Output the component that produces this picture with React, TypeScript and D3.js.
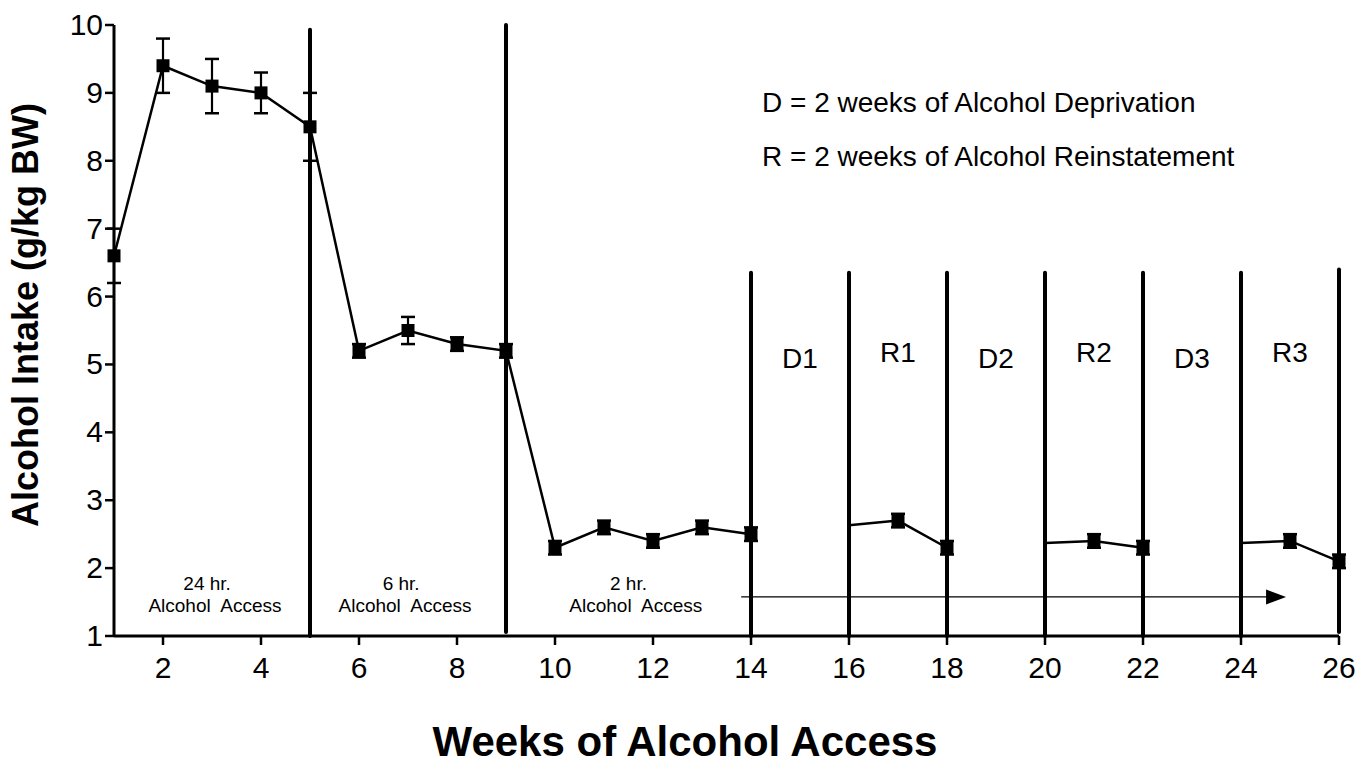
import React from "react";
import * as d3 from "d3";

// ---- data ----
const weeksMain = [1, 2, 3, 4, 5, 6, 7, 8, 9, 10, 11, 12, 13, 14];
const meansMain = [6.6, 9.4, 9.1, 9.0, 8.5, 5.2, 5.5, 5.3, 5.2, 2.3, 2.6, 2.4, 2.6, 2.5];
const semMain = [0.4, 0.4, 0.4, 0.3, 0.5, 0.1, 0.2, 0.1, 0.1, 0.1, 0.1, 0.1, 0.1, 0.1];

const weeksR1 = [16, 17, 18];
const meansR1 = [2.63, 2.7, 2.3];
const semR1 = [null, 0.1, 0.1];

const weeksR2 = [20, 21, 22];
const meansR2 = [2.37, 2.4, 2.3];
const semR2 = [null, 0.1, 0.1];

const weeksR3 = [24, 25, 26];
const meansR3 = [2.37, 2.4, 2.1];
const semR3 = [null, 0.1, 0.1];

const dividerWeeks = [5, 9, 14, 16, 18, 20, 22, 24, 26];
const dividerTops = [9.93, 10.0, 6.35, 6.35, 6.35, 6.35, 6.35, 6.35, 6.4];
const dividerBottoms = [1.0, 1.06, 1.0, 1.0, 1.0, 1.0, 1.0, 1.0, 1.06];

const phaseLabels = ["D1", "R1", "D2", "R2", "D3", "R3"];
const phaseWeeks = [15, 17, 19, 21, 23, 25];

const accessHours = ["24 hr.", "6 hr.", "2 hr."];
const accessHourWeeks = [2.9, 6.86, 11.5];
const accessLabelWeeks = [3.06, 6.94, 11.65];

const xTicks = [2, 4, 6, 8, 10, 12, 14, 16, 18, 20, 22, 24, 26];
const yTicks = [1, 2, 3, 4, 5, 6, 7, 8, 9, 10];

const arrowStart = 13.8;
const arrowEnd = 24.92;
const arrowLevel = 1.575;

const legendLines = [
  "D = 2 weeks of Alcohol Deprivation",
  "R = 2 weeks of Alcohol Reinstatement",
];

const FONT = "'Liberation Sans', Arial, Helvetica, sans-serif";

export default function App() {
  const W = 1358;
  const H = 766;
  const x = d3.scaleLinear().domain([1, 26]).range([114, 1339]);
  const y = d3.scaleLinear().domain([1, 10]).range([636, 25]);

  const line = d3
    .line<[number, number]>()
    .x((d) => x(d[0]))
    .y((d) => y(d[1]));

  const series = [
    { w: weeksMain, m: meansMain, s: semMain, markerFrom: 0 },
    { w: weeksR1, m: meansR1, s: semR1, markerFrom: 1 },
    { w: weeksR2, m: meansR2, s: semR2, markerFrom: 1 },
    { w: weeksR3, m: meansR3, s: semR3, markerFrom: 1 },
  ];

  const ms = 13;
  const cap = 7;

  return (
    <svg
      width={W}
      height={H}
      style={{ position: "absolute", left: 0, top: 0, background: "#fff" }}
      fontFamily={FONT}
    >
      <rect x={0} y={0} width={W} height={H} fill="#fff" />

      {/* divider lines */}
      {dividerWeeks.map((w, i) => (
        <line
          key={"div" + i}
          x1={x(w)}
          x2={x(w)}
          y1={y(dividerTops[i])}
          y2={y(dividerBottoms[i])}
          stroke="#000"
          strokeWidth={4}
          strokeLinecap="round"
        />
      ))}

      {/* arrow */}
      <line
        x1={x(arrowStart)}
        x2={x(arrowEnd) - 18}
        y1={y(arrowLevel)}
        y2={y(arrowLevel)}
        stroke="#000"
        strokeWidth={1.3}
      />
      <path
        d={`M${x(arrowEnd)},${y(arrowLevel)} L${x(arrowEnd) - 20},${y(arrowLevel) - 7.5} L${x(arrowEnd) - 20},${y(arrowLevel) + 7.5} Z`}
        fill="#000"
      />

      {/* series lines */}
      {series.map((s, si) => (
        <path
          key={"ln" + si}
          d={line(s.w.map((w, i) => [w, s.m[i]] as [number, number])) || ""}
          fill="none"
          stroke="#000"
          strokeWidth={2.5}
        />
      ))}

      {/* error bars + markers */}
      {series.map((s, si) =>
        s.w.map((w, i) => {
          if (i < s.markerFrom) return null;
          const cx = x(w);
          const cy = y(s.m[i]);
          const e = s.s[i] as number;
          const yt = y(s.m[i] + e);
          const yb = y(s.m[i] - e);
          return (
            <g key={"pt" + si + "-" + i}>
              <line x1={cx} x2={cx} y1={yt} y2={yb} stroke="#000" strokeWidth={2.2} />
              <line x1={cx - cap} x2={cx + cap} y1={yt} y2={yt} stroke="#000" strokeWidth={2.5} />
              <line x1={cx - cap} x2={cx + cap} y1={yb} y2={yb} stroke="#000" strokeWidth={2.5} />
              <rect x={cx - ms / 2} y={cy - ms / 2} width={ms} height={ms} fill="#000" />
            </g>
          );
        })
      )}

      {/* axes */}
      <line x1={x(1)} x2={x(1)} y1={y(10)} y2={y(1)} stroke="#000" strokeWidth={3} />
      <line x1={x(1)} x2={x(26)} y1={y(1)} y2={y(1)} stroke="#000" strokeWidth={3} />
      {yTicks.map((t) => (
        <g key={"yt" + t}>
          <line x1={x(1) - 9} x2={x(1)} y1={y(t)} y2={y(t)} stroke="#000" strokeWidth={2.5} />
          <text x={x(1) - 11} y={y(t) + 10} fontSize={30} textAnchor="end" fill="#000">
            {t}
          </text>
        </g>
      ))}
      {xTicks.map((t) => (
        <g key={"xt" + t}>
          <line x1={x(t)} x2={x(t)} y1={y(1)} y2={y(1) + 9} stroke="#000" strokeWidth={2.5} />
          <text x={x(t)} y={678} fontSize={30} textAnchor="middle" fill="#000">
            {t}
          </text>
        </g>
      ))}

      {/* phase labels */}
      {phaseLabels.map((l, i) => (
        <text
          key={"ph" + i}
          x={x(phaseWeeks[i])}
          y={l.startsWith("D") ? 368 : 362}
          fontSize={28}
          textAnchor="middle"
          fill="#000"
        >
          {l}
        </text>
      ))}

      {/* access labels */}
      {accessHours.map((l, i) => (
        <g key={"ac" + i}>
          <text x={x(accessHourWeeks[i])} y={590} fontSize={19} textAnchor="middle" fill="#000">
            {l}
          </text>
          <text
            x={x(accessLabelWeeks[i])}
            y={612}
            fontSize={19}
            textAnchor="middle"
            fill="#000"
            style={{ whiteSpace: "pre" }}
            xmlSpace="preserve"
          >
            {"Alcohol  Access"}
          </text>
        </g>
      ))}

      {/* legend */}
      {legendLines.map((l, i) => (
        <text key={"lg" + i} x={762} y={112 + i * 54} fontSize={28} fill="#000">
          {l}
        </text>
      ))}

      {/* axis titles */}
      <text
        transform={`translate(38,315) rotate(-90)`}
        fontSize={36}
        fontWeight="bold"
        textAnchor="middle"
        fill="#000"
      >
        Alcohol Intake (g/kg BW)
      </text>
      <text x={685} y={756} fontSize={42} fontWeight="bold" textAnchor="middle" fill="#000">
        Weeks of Alcohol Access
      </text>
    </svg>
  );
}
